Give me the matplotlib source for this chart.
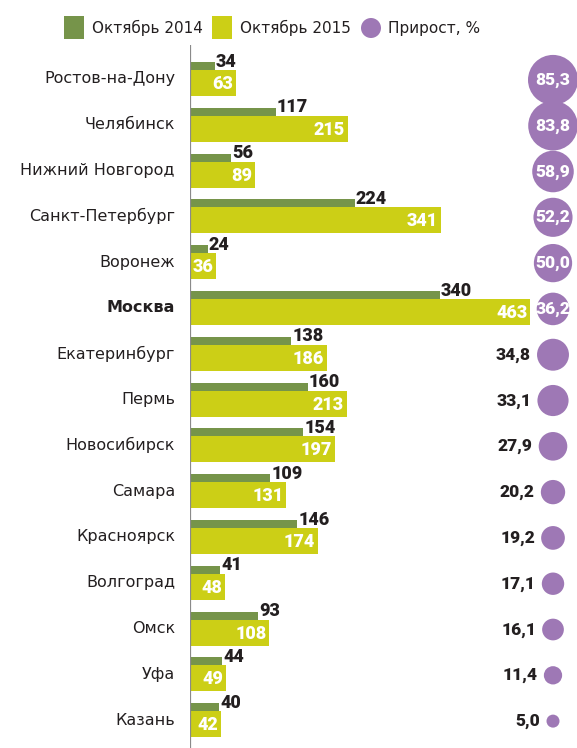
import matplotlib
matplotlib.use("Agg")
from matplotlib import pyplot as plt
from matplotlib.patches import Rectangle, Ellipse
import numpy as np

cities = ["Ростов-на-Дону", "Челябинск", "Нижний Новгород", "Санкт-Петербург",
          "Воронеж", "Москва", "Екатеринбург", "Пермь", "Новосибирск", "Самара",
          "Красноярск", "Волгоград", "Омск", "Уфа", "Казань"]
oct2014 = [34, 117, 56, 224, 24, 340, 138, 160, 154, 109, 146, 41, 93, 44, 40]
oct2015 = [63, 215, 89, 341, 36, 463, 186, 213, 197, 131, 174, 48, 108, 49, 42]
growth = [85.3, 83.8, 58.9, 52.2, 50.0, 36.2, 34.8, 33.1, 27.9, 20.2, 19.2, 17.1, 16.1, 11.4, 5.0]
legend_labels = ["Октябрь 2014", "Октябрь 2015", "Прирост, %"]

GREEN = "#76944a"
YELLOW = "#cccf16"
PURPLE = "#9e78b5"
DARK = "#231f20"
NUMFONT = ['Roboto', 'DejaVu Sans']

W, H = 577, 748
plt.rcParams['font.family'] = ['DejaVu Sans']
fig = plt.figure(figsize=(W / 100, H / 100), dpi=100)

# axes from x=190px to right edge, y=45px to bottom
ax = fig.add_axes([190 / W, 0, 1 - 190 / W, (H - 45) / H])
px = 0.735  # px per unit
pitch = 45.8
ax.set_xlim(0, (W - 190) / px)
ax.set_ylim((H - 79) / pitch, -(79 - 45) / pitch)
ax.axis("off")
ax.axvline(0, color="#8a8a8a", lw=1.6)

y = np.arange(len(cities))
h14 = 8 / pitch
h15 = 26 / pitch
ax.barh(y - 0.284, oct2014, height=h14, color=GREEN, linewidth=0)
ax.barh(y + 0.087, oct2015, height=h15, color=YELLOW, linewidth=0)

for i in range(len(cities)):
    ax.text(oct2014[i] + 1 / px, y[i] - 0.38, str(oct2014[i]), ha="left", va="center",
            fontsize=13, fontweight=900, color=DARK, family=NUMFONT)
    ax.text(oct2015[i] - 3 / px, y[i] + 0.11, str(oct2015[i]), ha="right", va="center",
            fontsize=13, fontweight=900, color="white", family=NUMFONT)
    fig.text(175 / W, 1 - (79 + i * pitch) / H, cities[i], ha="right", va="center",
             fontsize=11.5, color=DARK, fontweight="bold" if cities[i] == "Москва" else "normal")

# growth circles
cx = (553 - 190) / px
diam = 50 * np.sqrt(np.array(growth) / max(growth))
diam = np.maximum(diam, 13)
ax.scatter(np.full(len(growth), cx), y + 0.02, s=(diam * 0.72) ** 2, color=PURPLE,
           linewidth=0, zorder=3)
for i, g in enumerate(growth):
    lab = f"{g:.1f}".replace(".", ",")
    if i < 6:
        ax.text(cx, y[i] + 0.02, lab, ha="center", va="center", fontsize=12.5,
                fontweight=900, color="white", zorder=4, family=NUMFONT)
    else:
        ax.text(cx - (diam[i] / 2 + 6) / px, y[i] + 0.02, lab, ha="right", va="center",
                fontsize=12.5, fontweight=900, color=DARK, family=NUMFONT)

# legend
ly = 1 - 28 / H
fig.add_artist(Rectangle((64 / W, 1 - 39 / H), 20 / W, 23 / H, color=GREEN, lw=0))
fig.text(92 / W, ly, legend_labels[0], ha="left", va="center", fontsize=11, color=DARK)
fig.add_artist(Rectangle((212 / W, 1 - 39 / H), 20 / W, 23 / H, color=YELLOW, lw=0))
fig.text(240 / W, ly, legend_labels[1], ha="left", va="center", fontsize=11, color=DARK)
fig.add_artist(Ellipse((371 / W, ly), 20 / W, 20 / H, color=PURPLE, lw=0,
                       transform=fig.transFigure))
fig.text(388 / W, ly, legend_labels[2], ha="left", va="center", fontsize=11, color=DARK)

fig.savefig("out.png", dpi=100)
